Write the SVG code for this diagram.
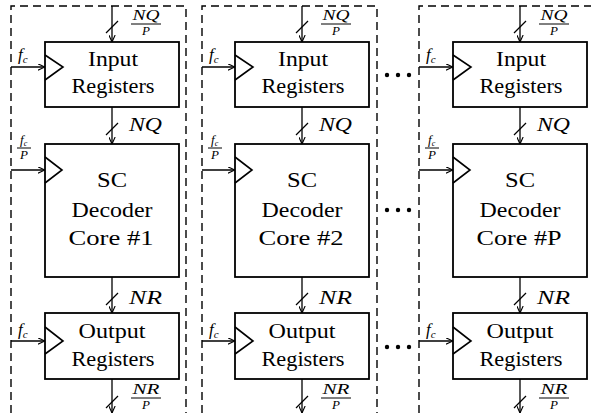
<svg xmlns="http://www.w3.org/2000/svg" width="591" height="413" viewBox="0 0 591 413">
<style>
.bg{fill:#fff}
.dash{fill:none;stroke:#000;stroke-width:1.4;stroke-dasharray:8 5}
.box{fill:#fff;stroke:#000;stroke-width:1.8}
.tri{fill:none;stroke:#000;stroke-width:1.6;stroke-linejoin:miter}
.wire{fill:none;stroke:#000;stroke-width:1.3}
.bar{stroke:#000;stroke-width:1}
text{font-family:'Liberation Serif','DejaVu Serif',serif;fill:#000}
.t{font-size:21px;text-anchor:middle}
.m{font-style:italic;font-size:19px}
.f{font-style:italic;font-size:17px}
.ms{font-style:italic;font-size:15px;text-anchor:middle}
.mp{font-style:italic;font-size:13px;text-anchor:middle}
.sub{font-size:11px}
.subs{font-size:8px}
.dot{fill:#000}
</style>
<defs>
<marker id="ah" viewBox="0 0 10 10" refX="10" refY="5" markerWidth="7" markerHeight="7" markerUnits="userSpaceOnUse" orient="auto">
<path d="M0,0.5 L10,5 L0,9.5" fill="none" stroke="#000" stroke-width="1.6"/>
</marker>
</defs>
<rect class="bg" x="0" y="0" width="591" height="413"/>

<g id="frames">
<path class="dash" d="M11,413 V6 H186 V413"/>
<path class="dash" d="M202,413 V6 H377 V413"/>
<path class="dash" d="M419,413 V6 H594 V413"/>
</g>

<g id="connectors">
<path class="wire" d="M112,6 V42" marker-end="url(#ah)"/>
<path class="wire" d="M106,33 L118,21"/>
<path class="wire" d="M112,107 V144" marker-end="url(#ah)"/>
<path class="wire" d="M106,135 L118,123"/>
<path class="wire" d="M112,277 V313" marker-end="url(#ah)"/>
<path class="wire" d="M106,305 L118,293"/>
<path class="wire" d="M112,379 V413" marker-end="url(#ah)"/>
<path class="wire" d="M106,408 L118,396"/>
<path class="wire" d="M11,67 H45" marker-end="url(#ah)"/>
<path class="wire" d="M11,170 H45" marker-end="url(#ah)"/>
<path class="wire" d="M11,341 H45" marker-end="url(#ah)"/>
<path class="wire" d="M302,6 V42" marker-end="url(#ah)"/>
<path class="wire" d="M296,33 L308,21"/>
<path class="wire" d="M302,107 V144" marker-end="url(#ah)"/>
<path class="wire" d="M296,135 L308,123"/>
<path class="wire" d="M302,277 V313" marker-end="url(#ah)"/>
<path class="wire" d="M296,305 L308,293"/>
<path class="wire" d="M302,379 V413" marker-end="url(#ah)"/>
<path class="wire" d="M296,408 L308,396"/>
<path class="wire" d="M202,67 H235" marker-end="url(#ah)"/>
<path class="wire" d="M202,170 H235" marker-end="url(#ah)"/>
<path class="wire" d="M202,341 H235" marker-end="url(#ah)"/>
<path class="wire" d="M520,6 V42" marker-end="url(#ah)"/>
<path class="wire" d="M514,33 L526,21"/>
<path class="wire" d="M520,107 V144" marker-end="url(#ah)"/>
<path class="wire" d="M514,135 L526,123"/>
<path class="wire" d="M520,277 V313" marker-end="url(#ah)"/>
<path class="wire" d="M514,305 L526,293"/>
<path class="wire" d="M520,379 V413" marker-end="url(#ah)"/>
<path class="wire" d="M514,408 L526,396"/>
<path class="wire" d="M419,67 H453" marker-end="url(#ah)"/>
<path class="wire" d="M419,170 H453" marker-end="url(#ah)"/>
<path class="wire" d="M419,341 H453" marker-end="url(#ah)"/>
</g>

<g id="labels">
<text class="ms" x="146" y="20" textLength="27" lengthAdjust="spacingAndGlyphs">NQ</text>
<line class="bar" x1="131" y1="24" x2="161" y2="24"/>
<text class="mp" x="146" y="35">P</text>
<text class="m" x="129" y="131" textLength="33" lengthAdjust="spacingAndGlyphs">NQ</text>
<text class="m" x="129" y="304" textLength="33" lengthAdjust="spacingAndGlyphs">NR</text>
<text class="ms" x="146" y="394" textLength="27" lengthAdjust="spacingAndGlyphs">NR</text>
<line class="bar" x1="131" y1="398" x2="161" y2="398"/>
<text class="mp" x="146" y="409">P</text>
<text class="f" x="18" y="60">f<tspan class="sub" dy="3">c</tspan></text>
<text class="f" x="18" y="335">f<tspan class="sub" dy="3">c</tspan></text>
<text class="mp" x="20" y="144" style="text-anchor:start">f<tspan class="subs" dy="2">c</tspan></text>
<line class="bar" x1="17" y1="148" x2="31" y2="148"/>
<text class="mp" x="24" y="159">P</text>

<text class="ms" x="336" y="20" textLength="27" lengthAdjust="spacingAndGlyphs">NQ</text>
<line class="bar" x1="321" y1="24" x2="351" y2="24"/>
<text class="mp" x="336" y="35">P</text>
<text class="m" x="319" y="131" textLength="33" lengthAdjust="spacingAndGlyphs">NQ</text>
<text class="m" x="319" y="304" textLength="33" lengthAdjust="spacingAndGlyphs">NR</text>
<text class="ms" x="336" y="394" textLength="27" lengthAdjust="spacingAndGlyphs">NR</text>
<line class="bar" x1="321" y1="398" x2="351" y2="398"/>
<text class="mp" x="336" y="409">P</text>
<text class="f" x="209" y="60">f<tspan class="sub" dy="3">c</tspan></text>
<text class="f" x="209" y="335">f<tspan class="sub" dy="3">c</tspan></text>
<text class="mp" x="211" y="144" style="text-anchor:start">f<tspan class="subs" dy="2">c</tspan></text>
<line class="bar" x1="208" y1="148" x2="222" y2="148"/>
<text class="mp" x="215" y="159">P</text>

<text class="ms" x="554" y="20" textLength="27" lengthAdjust="spacingAndGlyphs">NQ</text>
<line class="bar" x1="539" y1="24" x2="569" y2="24"/>
<text class="mp" x="554" y="35">P</text>
<text class="m" x="537" y="131" textLength="33" lengthAdjust="spacingAndGlyphs">NQ</text>
<text class="m" x="537" y="304" textLength="33" lengthAdjust="spacingAndGlyphs">NR</text>
<text class="ms" x="554" y="394" textLength="27" lengthAdjust="spacingAndGlyphs">NR</text>
<line class="bar" x1="539" y1="398" x2="569" y2="398"/>
<text class="mp" x="554" y="409">P</text>
<text class="f" x="426" y="60">f<tspan class="sub" dy="3">c</tspan></text>
<text class="f" x="426" y="335">f<tspan class="sub" dy="3">c</tspan></text>
<text class="mp" x="428" y="144" style="text-anchor:start">f<tspan class="subs" dy="2">c</tspan></text>
<line class="bar" x1="425" y1="148" x2="439" y2="148"/>
<text class="mp" x="432" y="159">P</text>
</g>

<g id="in1">
<rect class="box" x="45" y="42" width="134" height="65"/>
<path class="tri" d="M45,55 L63,67 L45,80"/>
<text class="t" x="113" y="66" textLength="50" lengthAdjust="spacingAndGlyphs">Input</text>
<text class="t" x="113" y="93" textLength="83" lengthAdjust="spacingAndGlyphs">Registers</text>
</g>
<g id="core1">
<rect class="box" x="45" y="144" width="134" height="133"/>
<path class="tri" d="M45,157 L62,170 L45,183"/>
<text class="t" x="112" y="187" textLength="30" lengthAdjust="spacingAndGlyphs">SC</text>
<text class="t" x="112" y="217" textLength="81" lengthAdjust="spacingAndGlyphs">Decoder</text>
<text class="t" x="111" y="245" textLength="85" lengthAdjust="spacingAndGlyphs">Core #1</text>
</g>
<g id="out1">
<rect class="box" x="45" y="313" width="134" height="66"/>
<path class="tri" d="M45,327 L63,341 L45,354"/>
<text class="t" x="112" y="338" textLength="67" lengthAdjust="spacingAndGlyphs">Output</text>
<text class="t" x="113" y="366" textLength="83" lengthAdjust="spacingAndGlyphs">Registers</text>
</g>

<g id="in2">
<rect class="box" x="235" y="42" width="134" height="65"/>
<path class="tri" d="M235,55 L253,67 L235,80"/>
<text class="t" x="303" y="66" textLength="50" lengthAdjust="spacingAndGlyphs">Input</text>
<text class="t" x="303" y="93" textLength="83" lengthAdjust="spacingAndGlyphs">Registers</text>
</g>
<g id="core2">
<rect class="box" x="235" y="144" width="134" height="133"/>
<path class="tri" d="M235,157 L252,170 L235,183"/>
<text class="t" x="302" y="187" textLength="30" lengthAdjust="spacingAndGlyphs">SC</text>
<text class="t" x="302" y="217" textLength="81" lengthAdjust="spacingAndGlyphs">Decoder</text>
<text class="t" x="301" y="245" textLength="85" lengthAdjust="spacingAndGlyphs">Core #2</text>
</g>
<g id="out2">
<rect class="box" x="235" y="313" width="134" height="66"/>
<path class="tri" d="M235,327 L253,341 L235,354"/>
<text class="t" x="302" y="338" textLength="67" lengthAdjust="spacingAndGlyphs">Output</text>
<text class="t" x="303" y="366" textLength="83" lengthAdjust="spacingAndGlyphs">Registers</text>
</g>

<g id="in3">
<rect class="box" x="453" y="42" width="134" height="65"/>
<path class="tri" d="M453,55 L471,67 L453,80"/>
<text class="t" x="521" y="66" textLength="50" lengthAdjust="spacingAndGlyphs">Input</text>
<text class="t" x="521" y="93" textLength="83" lengthAdjust="spacingAndGlyphs">Registers</text>
</g>
<g id="core3">
<rect class="box" x="453" y="144" width="134" height="133"/>
<path class="tri" d="M453,157 L470,170 L453,183"/>
<text class="t" x="520" y="187" textLength="30" lengthAdjust="spacingAndGlyphs">SC</text>
<text class="t" x="520" y="217" textLength="81" lengthAdjust="spacingAndGlyphs">Decoder</text>
<text class="t" x="519" y="245" textLength="85" lengthAdjust="spacingAndGlyphs">Core #P</text>
</g>
<g id="out3">
<rect class="box" x="453" y="313" width="134" height="66"/>
<path class="tri" d="M453,327 L471,341 L453,354"/>
<text class="t" x="520" y="338" textLength="67" lengthAdjust="spacingAndGlyphs">Output</text>
<text class="t" x="521" y="366" textLength="83" lengthAdjust="spacingAndGlyphs">Registers</text>
</g>

<g id="ellipsis">
<circle class="dot" cx="387" cy="75" r="2.2"/><circle class="dot" cx="398" cy="75" r="2.2"/><circle class="dot" cx="409" cy="75" r="2.2"/>
<circle class="dot" cx="387" cy="210" r="2.2"/><circle class="dot" cx="398" cy="210" r="2.2"/><circle class="dot" cx="409" cy="210" r="2.2"/>
<circle class="dot" cx="387" cy="347" r="2.2"/><circle class="dot" cx="398" cy="347" r="2.2"/><circle class="dot" cx="409" cy="347" r="2.2"/>
</g>
</svg>
